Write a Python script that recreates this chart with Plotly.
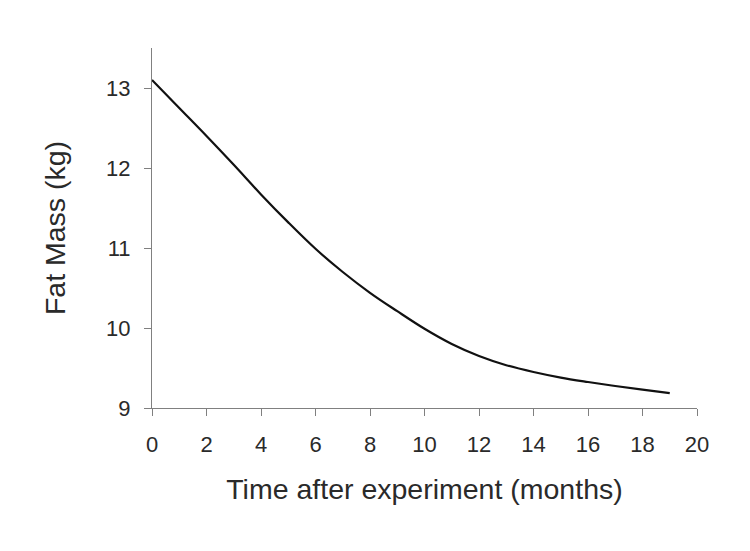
import plotly.graph_objects as go

months = [0, 1, 2, 3, 4, 5, 6, 7, 8, 9, 10, 11, 12, 13, 14, 15, 16, 17, 18, 19]
fat_mass = [13.10, 12.75, 12.40, 12.04, 11.67, 11.32, 10.99, 10.70, 10.44, 10.21,
            9.99, 9.80, 9.65, 9.535, 9.45, 9.38, 9.325, 9.275, 9.23, 9.185]
x_ticks = [0, 2, 4, 6, 8, 10, 12, 14, 16, 18, 20]
y_ticks = [9, 10, 11, 12, 13]

fig = go.Figure()
fig.add_trace(go.Scatter(x=months, y=fat_mass, mode="lines",
                         line=dict(color="#111111", width=2.2, shape="spline", smoothing=1.0),
                         showlegend=False))

font = dict(family="Liberation Sans, Arial, sans-serif", color="#2a2a2a")
fig.update_layout(
    width=750, height=551,
    margin=dict(l=144, r=61, t=40, b=151),
    paper_bgcolor="white", plot_bgcolor="white",
    font=font,
)
fig.update_xaxes(range=[0, 20], tickvals=x_ticks, ticks="outside", ticklen=7,
                 tickcolor="#808080", showline=True, linecolor="#808080", linewidth=1,
                 showgrid=False, zeroline=False, tickfont=dict(size=22), automargin=False,
                 ticklabelstandoff=10,
                 title=dict(text="Time after experiment (months)", font=dict(size=28.5), standoff=22))
fig.update_yaxes(range=[9, 13.5], tickvals=y_ticks, ticks="outside", ticklen=7,
                 tickcolor="#808080", showline=True, linecolor="#808080", linewidth=1,
                 showgrid=False, zeroline=False, tickfont=dict(size=22), automargin=False,
                 ticklabelstandoff=9,
                 title=dict(text="Fat Mass (kg)", font=dict(size=28.5), standoff=32))

fig.write_html("out.html")
